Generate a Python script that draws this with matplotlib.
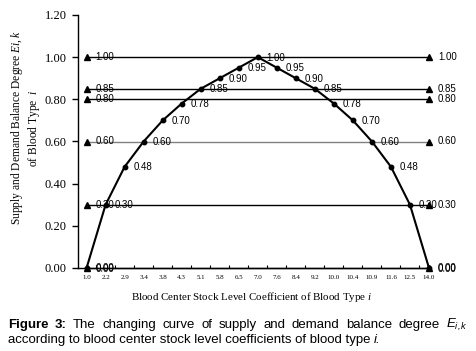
import matplotlib
matplotlib.use('Agg')
import matplotlib.pyplot as plt
from matplotlib.ticker import MultipleLocator, FixedLocator

plt.rcParams['mathtext.fontset'] = 'custom'
plt.rcParams['mathtext.it'] = 'Liberation Serif:italic'
plt.rcParams['mathtext.rm'] = 'Liberation Serif'
plt.rcParams['mathtext.sf'] = 'Liberation Sans:italic'

# data
stock_levels = ['1.0', '2.2', '2.9', '3.4', '3.8', '4.3', '5.1', '5.8', '6.5', '7.0',
                '7.6', '8.4', '9.2', '10.0', '10.4', '10.9', '11.6', '12.5', '14.0']
balance = [0.00, 0.30, 0.48, 0.60, 0.70, 0.78, 0.85, 0.90, 0.95, 1.00,
           0.95, 0.90, 0.85, 0.78, 0.70, 0.60, 0.48, 0.30, 0.00]
ref_levels = [1.00, 0.85, 0.80, 0.60, 0.30, 0.00]
ref_colors = ['black', 'black', 'black', '#808080', 'black', 'black']

serif = 'Liberation Serif'
sans = 'Liberation Sans'

fig = plt.figure(figsize=(4.76, 3.51), dpi=100)
ax = fig.add_axes([78 / 476, 1 - 268 / 351, (429 - 78) / 476, (268 - 15) / 351])

x = list(range(len(stock_levels)))
last = x[-1]

# reference lines with triangle ends
for lvl, col in zip(ref_levels, ref_colors):
    ax.plot([0, last], [lvl, lvl], color=col, lw=1.0, marker='^', ms=4.5,
            mfc='black', mec='black', clip_on=False, zorder=2)
    for xe in (0, last):
        ax.annotate(f'{lvl:.2f}', (xe, lvl), xytext=(6.5, 0), textcoords='offset points',
                    ha='left', va='center', fontsize=7, family=sans, annotation_clip=False)

# balance curve
ax.plot(x, balance, color='black', lw=1.5, marker='o', ms=3.2, clip_on=False, zorder=3)
for xi, v in zip(x, balance):
    ax.annotate(f'{v:.2f}', (xi, v), xytext=(6.5, -0.5), textcoords='offset points',
                ha='left', va='center', fontsize=7, family=sans, annotation_clip=False)

ax.set_xlim(-0.45, last)
ax.set_ylim(0, 1.2)
ax.spines['top'].set_visible(False)
ax.spines['right'].set_visible(False)
ax.spines['left'].set_linewidth(1.0)
ax.spines['bottom'].set_linewidth(1.0)

ax.yaxis.set_major_locator(MultipleLocator(0.2))
ax.set_yticklabels([f'{t:.2f}' for t in ax.get_yticks()], family=serif, fontsize=9)
ax.tick_params(axis='y', direction='out', length=4, width=1, pad=4)

ax.set_xticks(x)
ax.set_xticklabels(stock_levels, family=serif, fontsize=5)
ax.tick_params(axis='x', which='major', length=0, pad=5)
ax.xaxis.set_minor_locator(FixedLocator([k + 0.5 for k in x[:-1]]))
ax.tick_params(axis='x', which='minor', direction='in', length=2.5, width=0.8)

fig.text(252 / 476, 1 - 297 / 351, 'Blood Center Stock Level Coefficient of Blood Type $i$',
         ha='center', va='center', fontsize=7.9, family=serif)
fig.text(25.5 / 476, 1 - 128 / 351,
         'Supply and Demand Balance Degree $Ei,k$\nof Blood Type  $i$',
         ha='center', va='center', rotation=90, fontsize=8.3, family=serif,
         multialignment='center', linespacing=1.05)

# caption, first line justified
cap_size = 9.5
cap_words = [('Figure', 'bold'), ('3:', 'bold'), ('The', 'normal'), ('changing', 'normal'),
             ('curve', 'normal'), ('of', 'normal'), ('supply', 'normal'), ('and', 'normal'),
             ('demand', 'normal'), ('balance', 'normal'), ('degree', 'normal'),
             (r'$\mathsf{E_{i,k}}$', 'normal')]
x0, x1 = 8 / 476, 468 / 476
y1 = 1 - 325 / 351
texts = [fig.text(x0, y1, w, fontsize=cap_size, family=sans, weight=wt, ha='left', va='center')
         for w, wt in cap_words]
fig.canvas.draw()
r = fig.canvas.get_renderer()
widths = [t.get_window_extent(r).width / fig.bbox.width for t in texts]
gap = (x1 - x0 - sum(widths)) / (len(texts) - 1)
pos = x0
for t, w in zip(texts, widths):
    t.set_x(pos)
    pos += w + gap
t2 = fig.text(x0, 1 - 340 / 351, 'according to blood center stock level coefficients of blood type ',
              fontsize=cap_size, family=sans, ha='left', va='center')
fig.canvas.draw()
ext = t2.get_window_extent(fig.canvas.get_renderer())
fig.text(ext.x1 / fig.bbox.width, 1 - 340 / 351, 'i.', fontsize=cap_size, family=sans,
         style='italic', ha='left', va='center')

fig.savefig('out.png', dpi=100)
